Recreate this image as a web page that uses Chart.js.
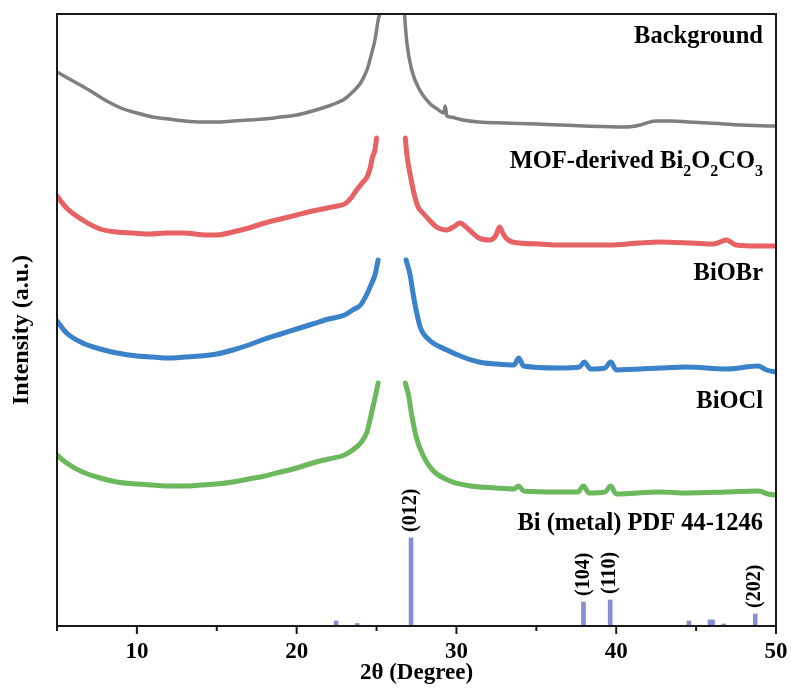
<!DOCTYPE html>
<html><head><meta charset="utf-8">
<script src="https://cdn.jsdelivr.net/npm/chart.js@4.4.1/dist/chart.umd.min.js"></script>
<style>html,body{margin:0;padding:0;background:#fff;}</style>
</head><body>
<canvas id="c" width="791" height="689" style="display:block;width:791px;height:689px"></canvas>
<script>
// ---- data (2θ in degrees, intensity in arbitrary stacked units) ----
const grayX = [5,6,7,8,9,10,11,12,13,14,15,16,17,18,19,20,21,22,22.5,23,23.5,24,24.4,24.7,24.9,25.1,25.3,25.6,26,26.5,26.75,26.9,27.2,27.7,28.3,28.8,29.2,29.3,29.4,29.6,30.4,31.4,33,35,36.5,38,40.6,41.5,41.9,42.5,43.5,44.5,45.8,47.9,49.75,50];
const grayY = [554,545,536,526,518,513,509,507,505,504,504,505,506,507,509,511,515,520,523,527,534,543,556,573,586,606,621,700,900,700,613,583,556,536,523,517,513,520,510,509,506,504,503,502,501,500,499,501,503,505,505,504,503,501,500,500];

const redX = [5,5.6,6.6,7.7,8.75,9.75,10.8,11.9,12.9,14.4,15,16,17,18,19,20,21,22.2,23.1,23.4,23.75,24.1,24.4,24.6,24.75,24.9,25.0,25.9,26.8,26.9,27.05,27.4,27.6,27.9,28.3,28.75,29.4,29.9,30.2,30.8,31.4,32.05,32.45,32.7,32.9,33.1,33.5,35.2,36.4,38.3,39.6,41.4,42.7,44.7,46.1,46.9,47.5,48.9,50];
const redY = [430,418,406,397,394,393,392,393,393,391,391,394,398,403,407,411,415,419,423,428,436,443,449,458,469,476,488,null,488,471,456,429,419,413,406,399,396,400,403,396,388,386,390,399,393,388,384,382,381,381,381,383,384,383,382,386,381,380,380];

const blueX = [5,5.6,6.6,7.7,8.75,10,11,12,13,14,15,16,17,18,19,20,21,22,23,23.5,24,24.4,24.7,24.9,25.1,26,26.85,27.1,27.3,27.5,27.75,28.3,29.4,30.4,31.4,32.5,33.6,33.9,34.2,36.4,37.7,38.0,38.4,39.3,39.65,40.0,42.7,44.4,46.9,48.9,49.4,50];
const blueY = [305,293,283,277,273,270,269,268,269,270,272,276,281,287,292,297,302,307,311,316,321,332,343,351,366,null,366,351,331,314,298,286,276,269,264,262,261,268,260,258,259,264,257,258,264,256,258,259,257,260,256,254];

const greenX = [5,5.6,6.6,7.7,8.75,10,11,12,13,14,15,16,17,18,19,20,21,22,23,23.5,24,24.4,24.7,24.9,25.1,26,26.8,27.0,27.2,27.5,27.9,28.5,29.6,30.9,32.5,33.6,33.9,34.2,36.4,37.6,37.95,38.3,39.3,39.65,40.0,42.7,44.4,46.9,48.9,49.5,50];
const greenY = [171,163,154,148,144,142,141,140,140,141,142,144,147,150,154,158,163,167,171,176,183,194,214,228,243,null,243,231,211,188,171,156,145,140,138,137,140,135,134,134,140,133,134,140,132,134,133,134,135,132,131];

// Bi (metal) PDF 44-1246 reference sticks
const stickX = [22.47,23.79,27.16,37.95,39.62,44.55,45.87,46.03,46.72,48.70];
const stickY = [5,2.5,88,24,26,5,6,6,2,12];
const stickLabels = ['','','(012)','(104)','(110)','','','','','(202)'];

const xTicks = [5,10,15,20,25,30,35,40,45,50];
const seriesNames = ['Background','MOF-derived Bi2O2CO3','BiOBr','BiOCl','Bi (metal) PDF 44-1246'];

// ---- rendering ----
const FONT = "'Liberation Serif','Times New Roman',serif";
const pts = (xs, ys) => xs.map((x, i) => ({x: x, y: ys[i]}));
const lineDs = (xs, ys, color, w) => ({
  type: 'line', data: pts(xs, ys), borderColor: color, borderWidth: w,
  pointRadius: 0, fill: false, spanGaps: false, cubicInterpolationMode: 'monotone',
  borderJoinStyle: 'round', borderCapStyle: 'round'
});

const deco = {
  id: 'deco',
  afterDraw(chart) {
    const {ctx, chartArea: a, scales: {x, y}} = chart;
    ctx.save();
    ctx.strokeStyle = '#1a1a1a';
    ctx.lineWidth = 2;
    ctx.strokeRect(a.left, a.top, a.right - a.left, a.bottom - a.top);
    x.ticks.forEach(t => {
      const px = x.getPixelForValue(t.value);
      const len = (t.value % 10 === 0) ? 8 : 5;
      ctx.beginPath(); ctx.moveTo(px, a.bottom); ctx.lineTo(px, a.bottom + len); ctx.stroke();
    });
    ctx.fillStyle = '#000';
    // hkl labels on reference sticks
    ctx.font = 'bold 20px ' + FONT;
    stickLabels.forEach((lab, i) => {
      if (!lab) return;
      const px = x.getPixelForValue(stickX[i]);
      const py = y.getPixelForValue(stickY[i]) - 6;
      ctx.save(); ctx.translate(px, py); ctx.rotate(-Math.PI / 2);
      ctx.textAlign = 'left'; ctx.textBaseline = 'middle';
      ctx.fillText(lab, 0, 0); ctx.restore();
    });
    // series labels (right aligned)
    const rx = a.right - 13;
    const base = [29, 154, 266, 394, 516];
    const big = 'bold 24.5px ' + FONT, small = 'bold 16px ' + FONT;
    ctx.textBaseline = 'alphabetic';
    seriesNames.forEach((name, i) => {
      const by = a.top + base[i];
      if (name.indexOf('Bi2O2CO3') >= 0) {
        const parts = [['MOF-derived Bi', big, 0], ['2', small, 8], ['O', big, 0], ['2', small, 8], ['CO', big, 0], ['3', small, 8]];
        let w = 0;
        parts.forEach(p => { ctx.font = p[1]; w += ctx.measureText(p[0]).width; });
        let cx = rx - w;
        ctx.textAlign = 'left';
        parts.forEach(p => { ctx.font = p[1]; ctx.fillText(p[0], cx, by + p[2]); cx += ctx.measureText(p[0]).width; });
      } else {
        ctx.font = big; ctx.textAlign = 'right';
        ctx.fillText(name, rx, by);
      }
    });
    // y axis title
    ctx.font = 'bold 24px ' + FONT;
    ctx.save(); ctx.translate(22, 330); ctx.rotate(-Math.PI / 2);
    ctx.textAlign = 'center'; ctx.textBaseline = 'middle';
    ctx.fillText('Intensity (a.u.)', 0, 0); ctx.restore();
    ctx.restore();
  }
};

new Chart(document.getElementById('c'), {
  type: 'line',
  data: {
    datasets: [
      lineDs(grayX, grayY, '#7f7f7f', 3.5),
      lineDs(redX, redY, '#e66264', 5),
      lineDs(blueX, blueY, '#3a82c9', 5),
      lineDs(greenX, greenY, '#6cb85d', 5),
      { type: 'bar', data: pts(stickX, stickY), backgroundColor: '#8a8dd2',
        barThickness: 4, grouped: false, borderWidth: 0 }
    ]
  },
  options: {
    responsive: false, animation: false, devicePixelRatio: 1,
    layout: { padding: { top: 14, right: 15, left: 0, bottom: 0 } },
    plugins: { legend: { display: false }, tooltip: { enabled: false } },
    scales: {
      x: {
        type: 'linear', min: 5, max: 50, offset: false,
        afterBuildTicks: s => { s.ticks = xTicks.map(v => ({ value: v })); },
        ticks: { autoSkip: false, maxRotation: 0, padding: 12, color: '#000',
          font: { family: FONT, size: 23, weight: 'bold' },
          callback: v => (v % 10 === 0 ? String(v) : '') },
        grid: { display: false, drawTicks: false },
        border: { display: false },
        title: { display: true, text: '2θ (Degree)', color: '#000',
          font: { family: FONT, size: 23, weight: 'bold' }, padding: { top: 0, bottom: 2 } },
        afterFit: s => { s.height = 63; s.paddingLeft = 0; s.paddingRight = 0; }
      },
      y: {
        min: 0, max: 612,
        ticks: { display: false },
        grid: { display: false, drawTicks: false },
        border: { display: false },
        afterFit: s => { s.width = 57; s.paddingTop = 0; s.paddingBottom = 0; }
      }
    }
  },
  plugins: [deco]
});
</script>
</body></html>
